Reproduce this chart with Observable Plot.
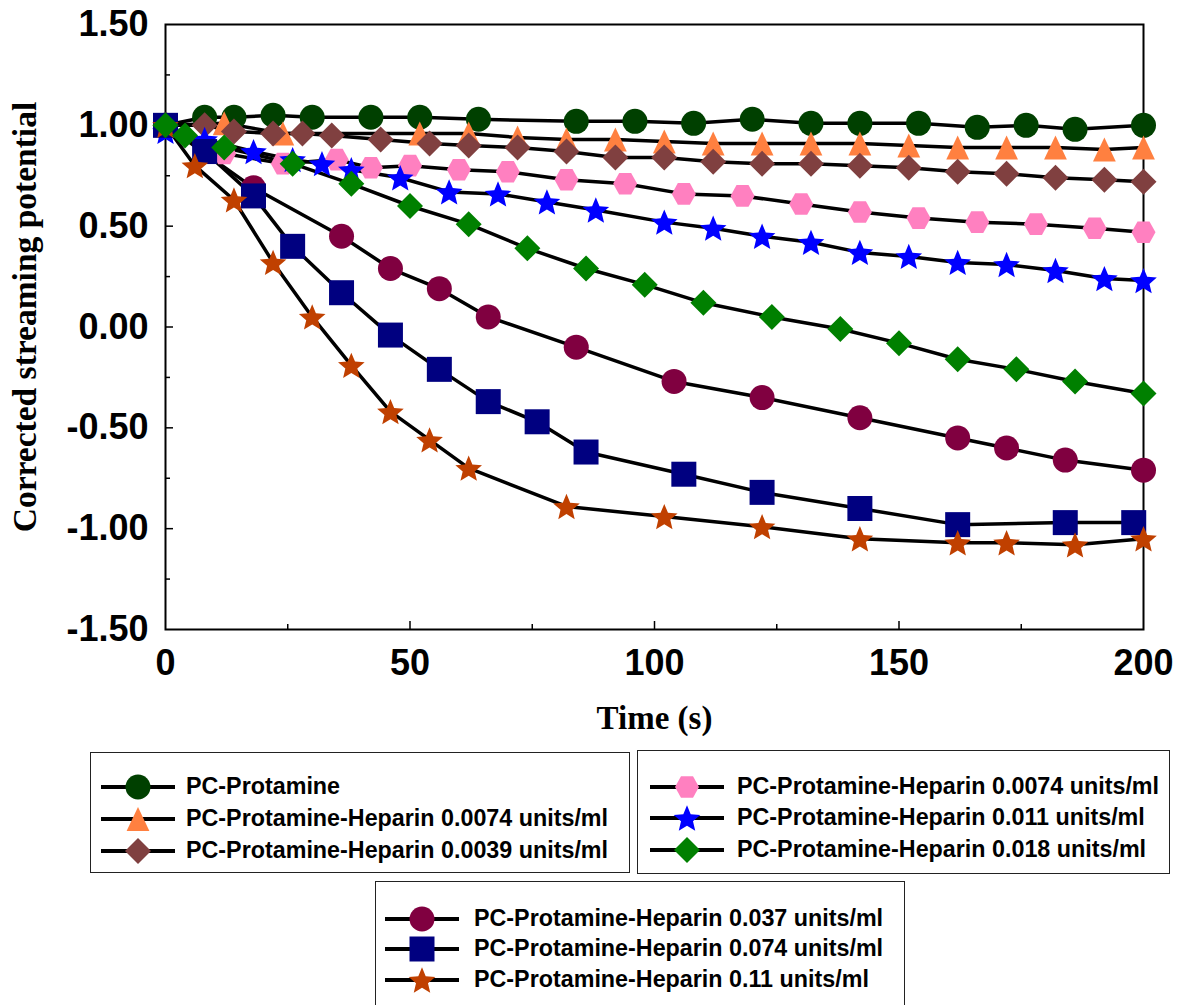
<!DOCTYPE html>
<html><head><meta charset="utf-8">
<script src="https://cdn.jsdelivr.net/npm/d3@7"></script>
<script src="https://cdn.jsdelivr.net/npm/@observablehq/plot@0.6"></script>
<style>
body{margin:0;background:#fff;}
#wrap{position:relative;width:1191px;height:1005px;overflow:hidden;background:#fff;}
.lgbox{position:absolute;border:1.5px solid #222;box-sizing:border-box;}
.lgtext{position:absolute;font-family:"Liberation Sans",Arial,sans-serif;font-weight:bold;font-size:23.3px;line-height:1;white-space:nowrap;transform:translateY(-50%);color:#000;}
.lgsw{position:absolute;overflow:visible;}
</style></head><body><div id="wrap"></div>
<script>
// ---------------- data ----------------
const labels = [
  "PC-Protamine",
  "PC-Protamine-Heparin 0.0074 units/ml",
  "PC-Protamine-Heparin 0.0039 units/ml",
  "PC-Protamine-Heparin 0.0074 units/ml",
  "PC-Protamine-Heparin 0.011 units/ml",
  "PC-Protamine-Heparin 0.018 units/ml",
  "PC-Protamine-Heparin 0.037 units/ml",
  "PC-Protamine-Heparin 0.074 units/ml",
  "PC-Protamine-Heparin 0.11 units/ml"
];
const colors = ["#004000", "#FF8040", "#804040", "#FF80C0", "#0000FF", "#008000", "#800040", "#000080", "#C04000"];

const tProt = [0, 8, 14, 22, 30, 42, 52, 64, 84, 96, 108, 120, 132, 142, 154, 166, 176, 186, 200];
const vProt = [1.00, 1.04, 1.04, 1.05, 1.04, 1.04, 1.04, 1.03, 1.02, 1.02, 1.01, 1.03, 1.01, 1.01, 1.01, 0.99, 1.00, 0.98, 1.00];

const tTri = [0, 12, 24, 52, 62, 72, 82, 92, 102, 112, 122, 132, 142, 152, 162, 172, 182, 192, 200];
const vTri = [1.00, 1.01, 0.96, 0.96, 0.96, 0.94, 0.93, 0.93, 0.92, 0.91, 0.91, 0.91, 0.91, 0.90, 0.89, 0.89, 0.89, 0.88, 0.89];

const t0039 = [0, 8, 14, 22, 28, 34, 44, 54, 62, 72, 82, 92, 102, 112, 122, 132, 142, 152, 162, 172, 182, 192, 200];
const v0039 = [1.00, 1.00, 0.97, 0.96, 0.96, 0.95, 0.93, 0.91, 0.90, 0.89, 0.87, 0.84, 0.84, 0.82, 0.81, 0.81, 0.80, 0.79, 0.77, 0.76, 0.74, 0.73, 0.72];

const tHex = [0, 12, 24, 35, 42, 50, 60, 70, 82, 94, 106, 118, 130, 142, 154, 166, 178, 190, 200];
const vHex = [1.00, 0.86, 0.81, 0.83, 0.79, 0.80, 0.78, 0.77, 0.73, 0.71, 0.66, 0.65, 0.61, 0.57, 0.54, 0.52, 0.51, 0.49, 0.47];

const t011 = [0, 8, 18, 26, 32, 38, 48, 58, 68, 78, 88, 102, 112, 122, 132, 142, 152, 162, 172, 182, 192, 200];
const v011 = [0.97, 0.93, 0.87, 0.83, 0.81, 0.78, 0.74, 0.67, 0.66, 0.62, 0.58, 0.52, 0.49, 0.45, 0.42, 0.37, 0.35, 0.32, 0.31, 0.28, 0.24, 0.23];

const t018 = [0, 4, 12, 26, 38, 50, 62, 74, 86, 98, 110, 124, 138, 150, 162, 174, 186, 200];
const v018 = [1.00, 0.95, 0.89, 0.81, 0.71, 0.60, 0.51, 0.39, 0.29, 0.21, 0.12, 0.05, -0.01, -0.08, -0.16, -0.21, -0.27, -0.33];

const t037 = [0, 18, 36, 46, 56, 66, 84, 104, 122, 142, 162, 172, 184, 200];
const v037 = [1.00, 0.69, 0.45, 0.29, 0.19, 0.05, -0.10, -0.27, -0.35, -0.45, -0.55, -0.60, -0.66, -0.71];

const t074 = [0, 8, 18, 26, 36, 46, 56, 66, 76, 86, 106, 122, 142, 162, 184, 198];
const v074 = [1.00, 0.87, 0.65, 0.40, 0.17, -0.04, -0.21, -0.37, -0.47, -0.62, -0.73, -0.82, -0.90, -0.98, -0.97, -0.97];

const t11 = [0, 6, 14, 22, 30, 38, 46, 54, 62, 82, 102, 122, 142, 162, 172, 186, 200];
const v11 = [1.00, 0.80, 0.63, 0.32, 0.05, -0.19, -0.42, -0.56, -0.70, -0.89, -0.94, -0.99, -1.05, -1.07, -1.07, -1.08, -1.05];

const xTicks = [0, 50, 100, 150, 200];
const xMinor = [25, 75, 125, 175];
const yTicks = [-1.5, -1.0, -0.5, 0, 0.5, 1.0, 1.5];
const yMajorInner = [-1.0, -0.5, 0, 0.5, 1.0];
const yMinor = [-1.25, -0.75, -0.25, 0.25, 0.75, 1.25];
const xTitle = "Time (s)";
const yTitle = "Corrected streaming potential";

// ---------------- symbols ----------------
const rad = s => Math.sqrt(s / Math.PI);
const symTri = {draw(c, s) { const r = rad(s); c.moveTo(0, -r); c.lineTo(r * 0.95, r); c.lineTo(-r * 0.95, r); c.closePath(); }};
const symDia = {draw(c, s) { const r = rad(s); c.moveTo(0, -r); c.lineTo(r, 0); c.lineTo(0, r); c.lineTo(-r, 0); c.closePath(); }};
const symSq = {draw(c, s) { const r = rad(s); c.moveTo(-r, -r); c.lineTo(r, -r); c.lineTo(r, r); c.lineTo(-r, r); c.closePath(); }};
const symHex = {draw(c, s) { const r = rad(s), h = 0.9 * r; c.moveTo(r, 0); c.lineTo(r / 2, h); c.lineTo(-r / 2, h); c.lineTo(-r, 0); c.lineTo(-r / 2, -h); c.lineTo(r / 2, -h); c.closePath(); }};
const symStar = {draw(c, s) {
  const R = rad(s), ri = 0.45 * R, off = 0.095 * R;
  for (let i = 0; i < 10; i++) {
    const a = -Math.PI / 2 + i * Math.PI / 5, rr = i % 2 ? ri : R;
    const x = rr * Math.cos(a), y = rr * Math.sin(a) + off;
    if (i === 0) c.moveTo(x, y); else c.lineTo(x, y);
  }
  c.closePath();
}};
const symCirc = {draw(c, s) { const r = rad(s); c.moveTo(r, 0); c.arc(0, 0, r, 0, 2 * Math.PI); c.closePath(); }};

const series = [
  {id: "s0", t: tProt, v: vProt, sym: symCirc, r: 12.5},
  {id: "s1", t: tTri, v: vTri, sym: symTri, r: 12},
  {id: "s2", t: t0039, v: v0039, sym: symDia, r: 13},
  {id: "s3", t: tHex, v: vHex, sym: symHex, r: 12},
  {id: "s4", t: t011, v: v011, sym: symStar, r: 14},
  {id: "s5", t: t018, v: v018, sym: symDia, r: 13},
  {id: "s6", t: t037, v: v037, sym: symCirc, r: 12.5},
  {id: "s7", t: t074, v: v074, sym: symSq, r: 12.5},
  {id: "s8", t: t11, v: v11, sym: symStar, r: 14}
];
series.forEach((s, i) => { s.label = labels[i]; s.color = colors[i]; s.rows = s.t.map((t, j) => ({id: s.id, t, v: s.v[j]})); });
const allRows = series.flatMap(s => s.rows);

// ---------------- chart ----------------
const W = 1191, H = 745, mL = 165, mR = 48, mT = 24, mB = 116;
const iw = W - mL - mR, ih = H - mT - mB;
const sans = "'Liberation Sans', Arial, sans-serif";
const serif = "'Liberation Serif', 'Times New Roman', serif";
const drawOrder = [0, 1, 2, 3, 4, 6, 7, 8, 5];

const chart = Plot.plot({
  width: W, height: H,
  marginLeft: mL, marginRight: mR, marginTop: mT, marginBottom: mB,
  x: {domain: [0, 200]},
  y: {domain: [-1.5, 1.5]},
  style: {background: "white", overflow: "visible"},
  marks: [
    Plot.ruleY(yMajorInner, {insetRight: iw - 8, stroke: "black", strokeWidth: 1.5}),
    Plot.ruleY(yMinor, {insetRight: iw - 5, stroke: "black", strokeWidth: 1.5}),
    Plot.ruleX(xTicks.slice(1, -1), {insetTop: ih - 8, stroke: "black", strokeWidth: 1.5}),
    Plot.ruleX(xMinor, {insetTop: ih - 5, stroke: "black", strokeWidth: 1.5}),
    Plot.frame({stroke: "black", strokeWidth: 2}),
    Plot.axisY({ticks: yTicks, tickSize: 0, tickPadding: 17, tickFormat: d => d.toFixed(2), fontSize: 36, fontWeight: "bold", fontFamily: sans, label: null}),
    Plot.axisX({ticks: xTicks, tickSize: 0, tickPadding: 20, tickFormat: d => String(d), fontSize: 36, fontWeight: "bold", fontFamily: sans, label: null}),
    Plot.line(allRows, {x: "t", y: "v", z: "id", stroke: "black", strokeWidth: 3.5}),
    ...drawOrder.map(i => Plot.dot(series[i].rows, {x: "t", y: "v", symbol: series[i].sym, r: series[i].r, fill: series[i].color, stroke: "none"})),
    Plot.text([xTitle], {text: d => d, frameAnchor: "bottom", lineAnchor: "middle", textAnchor: "middle", dy: 89, fontSize: 33, fontWeight: "bold", fontFamily: serif, fill: "black"}),
    Plot.text([yTitle], {text: d => d, frameAnchor: "left", lineAnchor: "middle", textAnchor: "middle", dx: -140, dy: -10, rotate: -90, fontSize: 33.5, fontWeight: "bold", fontFamily: serif, fill: "black"})
  ]
});
const wrap = document.getElementById("wrap");
chart.style.position = "absolute"; chart.style.left = "0px"; chart.style.top = "0px";
wrap.appendChild(chart);

// ---------------- legend ----------------
const boxes = [
  {left: 90, top: 752, w: 540, h: 121, items: [0, 1, 2], sx: 101, tx: 186, ys: [787, 819, 851]},
  {left: 637, top: 750, w: 533, h: 124, items: [3, 4, 5], sx: 650, tx: 737, ys: [787, 818, 850]},
  {left: 375, top: 881, w: 530, h: 140, items: [6, 7, 8], sx: 385, tx: 474, ys: [919, 949, 980]}
];
boxes.forEach(b => {
  const d = document.createElement("div");
  d.className = "lgbox";
  Object.assign(d.style, {left: b.left + "px", top: b.top + "px", width: b.w + "px", height: b.h + "px"});
  wrap.appendChild(d);
  b.items.forEach((si, k) => {
    const s = series[si], y = b.ys[k];
    const sw = d3.create("svg").attr("class", "lgsw").attr("width", 74).attr("height", 30)
      .style("left", b.sx + "px").style("top", (y - 15) + "px");
    sw.append("line").attr("x1", 0).attr("x2", 74).attr("y1", 15).attr("y2", 15).attr("stroke", "black").attr("stroke-width", 4);
    sw.append("path").attr("transform", "translate(37,15)").attr("d", d3.symbol(s.sym, Math.PI * s.r * s.r)()).attr("fill", s.color);
    wrap.appendChild(sw.node());
    const t = document.createElement("div");
    t.className = "lgtext"; t.textContent = s.label;
    Object.assign(t.style, {left: b.tx + "px", top: y + "px"});
    wrap.appendChild(t);
  });
});
</script></body></html>
